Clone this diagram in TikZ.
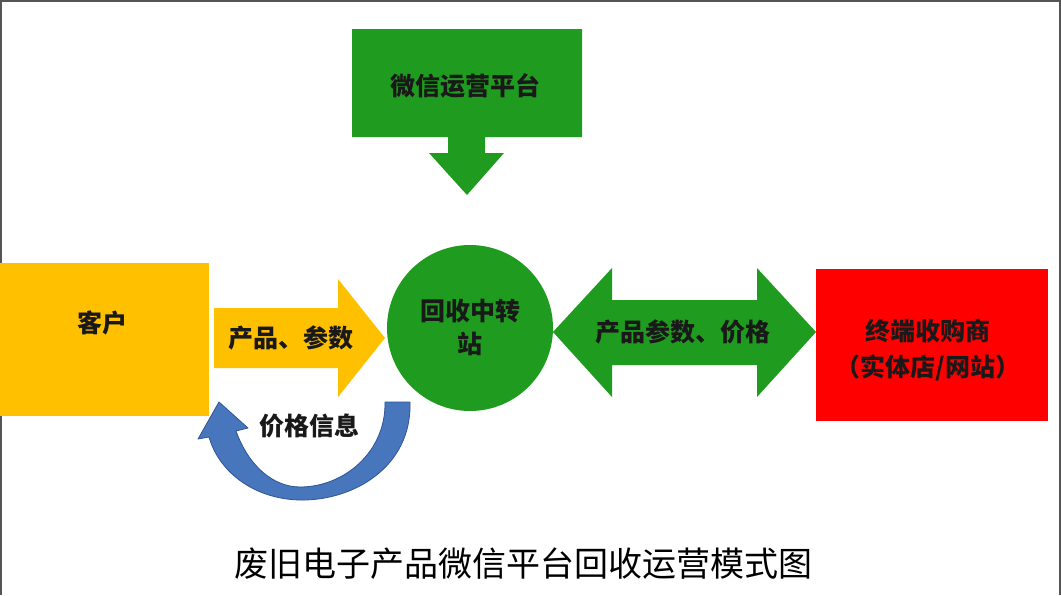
\documentclass[tikz,border=0pt]{standalone}
\usepackage{fontspec}
\newfontfamily\cjk{Noto Sans CJK SC}
\definecolor{ygold}{HTML}{FFC000}
\definecolor{ggreen}{HTML}{1F9C1F}
\definecolor{rred}{HTML}{FF0000}
\definecolor{bblue}{HTML}{4876BC}
\definecolor{bdark}{HTML}{2E5693}
\definecolor{frame}{HTML}{555555}
\tikzset{
  lbl/.style={inner sep=0pt, text=black!90, font=\cjk\bfseries\fontsize{25}{33}\selectfont, align=center},
  ttl/.style={inner sep=0pt, text=black, font=\cjk\fontsize{34}{40}\selectfont},
  blk/.style={draw=none, inner sep=0pt, outer sep=0pt}
}
\begin{document}
\begin{tikzpicture}[x=1pt,y=-1pt]
\useasboundingbox (0,0) rectangle (1061,595);
\fill[white] (0,0) rectangle (1061,595);
% frame
\draw[frame, line width=2.2pt] (1,595) -- (1,1) -- (1060,1) -- (1060,595);

% customer box
\node[blk, fill=ygold, minimum width=209pt, minimum height=153pt, anchor=north west] (cust) at (0,263) {};
\node[lbl] (custt) at (102,323) {客户};

% yellow arrow
\fill[ygold] (214,308) -- (338,308) -- (338,279) -- (385,338) -- (338,397) -- (338,368) -- (214,368) -- cycle;
\node[lbl] (a1) at (291,338) {产品、参数};

% center circle
\node[blk, circle, fill=ggreen, minimum size=166pt] (hub) at (470,328) {};
\node[lbl] (hubt) at (470,327) {回收中转\\站};

% top green box with arrow
\fill[ggreen] (352,29) -- (582,29) -- (582,137) -- (485,137) -- (485,153) -- (504,153) -- (467,195) -- (429,153) -- (448,153) -- (448,137) -- (352,137) -- cycle;
\node[lbl] (wx) at (465,86) {微信运营平台};

% double green arrow
\fill[ggreen] (553,332) -- (612,268) -- (612,300) -- (757,300) -- (757,268) -- (816,332) -- (757,397) -- (757,365) -- (612,365) -- (612,397) -- cycle;
\node[lbl] (a2) at (683,332) {产品参数、价格};

% red box
\node[blk, fill=rred, minimum width=232pt, minimum height=152pt, anchor=north west] (shop) at (816,269) {};
\node[lbl, font=\cjk\bfseries\fontsize{25}{36}\selectfont] (shopt) at (928,350) {终端收购商\\（实体店/网站）};

% blue curved arrow
\filldraw[fill=bblue, draw=bdark, line width=0.8pt, line join=round]
  (385,402) -- (410,402) .. controls (412,468) and (352,501) .. (300,500)
  .. controls (254,499) and (219,472) .. (209,437)
  -- (198,439) -- (219,402) -- (248,428) -- (236,431)
  .. controls (249,467) and (274,487) .. (300,487)
  .. controls (344,487) and (386,452) .. (385,402) -- cycle;
\node[lbl] (a3) at (309,426) {价格信息};

% title
\node[ttl] (title) at (523,564) {废旧电子产品微信平台回收运营模式图};
\end{tikzpicture}
\end{document}
